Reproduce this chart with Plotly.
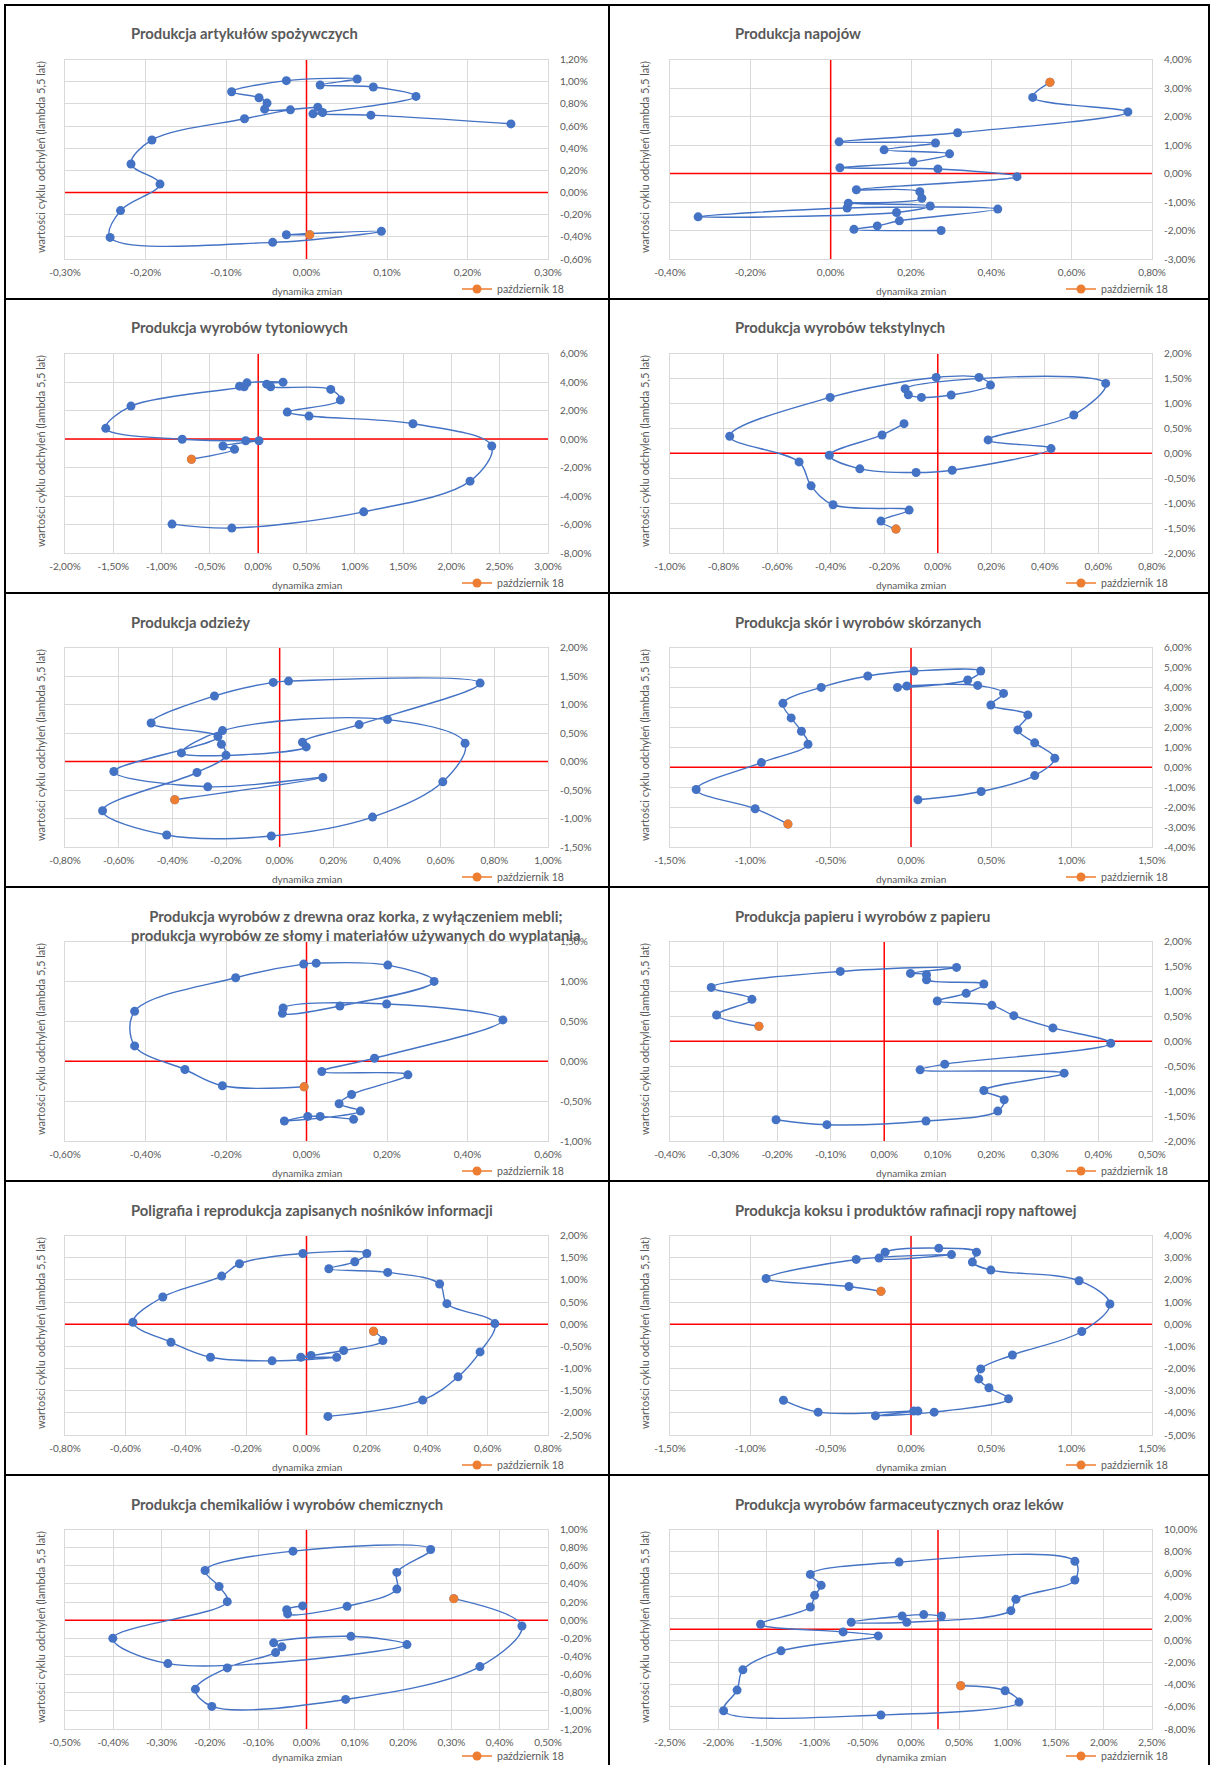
import numpy as np
import plotly.graph_objects as go

FONT = "Lato"
GREY = "#595959"
BLUE = "#4472c4"
ORANGE = "#ed7d31"
GRID = "#d9d9d9"
W, H = 1211, 1765

# ---------------- data (x = dynamika zmian [%], y = wartości cyklu [%]) ----------------
titles = [
    "Produkcja artykułów spożywczych",
    "Produkcja napojów",
    "Produkcja wyrobów tytoniowych",
    "Produkcja wyrobów tekstylnych",
    "Produkcja odzieży",
    "Produkcja skór i wyrobów skórzanych",
    "Produkcja wyrobów z drewna oraz korka, z wyłączeniem mebli;<br>produkcja wyrobów ze słomy i materiałów używanych do wyplatania",
    "Produkcja papieru i wyrobów z papieru",
    "Poligrafia i reprodukcja zapisanych nośników informacji",
    "Produkcja koksu i produktów rafinacji ropy naftowej",
    "Produkcja chemikaliów i wyrobów chemicznych",
    "Produkcja wyrobów farmaceutycznych oraz leków",
]

spozywcze_x = [0.254, 0.080, 0.008, 0.020, 0.136, 0.083, 0.017, 0.063, -0.025, -0.093, -0.059, -0.049,
               -0.052, 0.014, -0.020, -0.077, -0.192, -0.218, -0.182, -0.231, -0.244, -0.042, 0.093, -0.025, 0.004]
spozywcze_y = [0.619, 0.698, 0.710, 0.722, 0.867, 0.952, 0.970, 1.024, 1.009, 0.909, 0.855, 0.807,
               0.752, 0.770, 0.746, 0.665, 0.474, 0.257, 0.076, -0.163, -0.405, -0.450, -0.350, -0.381, -0.381]

napoje_x = [0.275, 0.058, 0.116, 0.171, 0.416, 0.041, -0.330, 0.164, 0.248, 0.044, 0.227, 0.222, 0.064,
            0.464, 0.267, 0.023, 0.205, 0.296, 0.133, 0.261, 0.021, 0.316, 0.740, 0.503, 0.546]
napoje_y = [-2.00, -1.96, -1.84, -1.66, -1.25, -1.21, -1.52, -1.37, -1.14, -1.04, -0.87, -0.64, -0.57,
            -0.11, 0.16, 0.20, 0.40, 0.69, 0.83, 1.07, 1.11, 1.43, 2.16, 2.67, 3.20]

tyton_x = [-0.892, -0.273, 1.092, 2.193, 2.418, 1.602, 0.526, 0.301, 0.851, 0.751, 0.129, 0.088, 0.257,
           -0.116, -0.193, -0.145, -1.317, -1.578, -0.787, -0.129, 0.008, -0.365, -0.245, -0.691]
tyton_y = [-5.97, -6.25, -5.11, -2.96, -0.49, 1.07, 1.61, 1.89, 2.73, 3.48, 3.66, 3.85, 3.99,
           3.94, 3.71, 3.66, 2.31, 0.75, -0.02, -0.12, -0.12, -0.49, -0.72, -1.42]

tekstylia_x = [-0.126, -0.208, -0.405, -0.291, -0.081, 0.054, 0.423, 0.188, 0.508, 0.627, -0.122, -0.110,
               -0.061, 0.050, 0.197, 0.154, -0.006, -0.402, -0.777, -0.518, -0.473, -0.391, -0.107, -0.212, -0.156]
tekstylia_y = [0.593, 0.367, -0.040, -0.313, -0.387, -0.340, 0.093, 0.267, 0.767, 1.400, 1.293, 1.173,
               1.120, 1.167, 1.367, 1.520, 1.520, 1.120, 0.340, -0.173, -0.653, -1.033, -1.140, -1.360, -1.520]

odziez_x = [-0.217, -0.200, -0.308, -0.660, -0.421, -0.031, 0.346, 0.608, 0.691, 0.402, -0.213, -0.366,
            0.099, 0.085, 0.296, 0.747, 0.033, -0.024, -0.243, -0.479, -0.230, -0.618, -0.268, 0.161, -0.391]
odziez_y = [0.303, 0.110, -0.193, -0.864, -1.289, -1.307, -0.975, -0.357, 0.320, 0.735, 0.542, 0.151,
            0.256, 0.338, 0.647, 1.376, 1.411, 1.388, 1.149, 0.676, 0.437, -0.176, -0.444, -0.280, -0.671]

skory_x = [0.043, 0.437, 0.770, 0.895, 0.770, 0.665, 0.727, 0.497, 0.576, 0.415, -0.026, -0.084, 0.353,
           0.434, 0.019, -0.269, -0.559, -0.797, -0.746, -0.682, -0.641, -0.931, -1.337, -0.970, -0.766]
skory_y = [-1.63, -1.22, -0.42, 0.45, 1.22, 1.87, 2.62, 3.12, 3.70, 4.10, 4.07, 4.00, 4.37,
           4.82, 4.82, 4.57, 4.00, 3.20, 2.47, 1.80, 1.15, 0.23, -1.12, -2.08, -2.85]

drewno_x = [0.117, 0.034, 0.003, -0.055, 0.134, 0.081, 0.112, 0.252, 0.038, 0.169, 0.488, 0.199, -0.058,
            -0.060, 0.083, 0.317, 0.202, 0.024, -0.007, -0.176, -0.427, -0.427, -0.302, -0.209, -0.006]
drewno_y = [-0.729, -0.692, -0.692, -0.750, -0.625, -0.533, -0.417, -0.171, -0.129, 0.037, 0.517, 0.717, 0.667,
            0.600, 0.692, 1.000, 1.204, 1.229, 1.217, 1.046, 0.625, 0.192, -0.104, -0.308, -0.321]

papier_x = [-0.202, -0.107, 0.078, 0.212, 0.224, 0.186, 0.336, 0.067, 0.113, 0.423, 0.315, 0.242, 0.201,
            0.099, 0.153, 0.186, 0.079, 0.079, 0.049, 0.135, -0.082, -0.323, -0.247, -0.313, -0.234]
papier_y = [-1.573, -1.673, -1.600, -1.400, -1.173, -0.987, -0.640, -0.573, -0.460, -0.040, 0.267, 0.513, 0.720,
            0.807, 0.960, 1.147, 1.233, 1.333, 1.360, 1.480, 1.400, 1.080, 0.840, 0.527, 0.300]

poligrafia_x = [0.071, 0.385, 0.502, 0.575, 0.624, 0.465, 0.441, 0.269, 0.074, 0.160, 0.200, -0.012, -0.222,
                -0.281, -0.476, -0.575, -0.449, -0.318, -0.114, 0.100, -0.019, 0.015, 0.123, 0.253, 0.222]
poligrafia_y = [-2.081, -1.713, -1.188, -0.625, 0.013, 0.462, 0.905, 1.167, 1.250, 1.407, 1.595, 1.595, 1.363,
                1.085, 0.613, 0.043, -0.407, -0.745, -0.827, -0.745, -0.745, -0.707, -0.595, -0.370, -0.160]

koks_x = [-0.794, -0.578, 0.017, 0.043, -0.221, 0.144, 0.607, 0.485, 0.422, 0.434, 0.631, 1.063, 1.238,
          1.046, 0.497, 0.382, 0.408, 0.173, -0.161, -0.199, 0.252, -0.341, -0.902, -0.386, -0.187]
koks_y = [-3.43, -3.97, -3.92, -3.92, -4.13, -3.97, -3.37, -2.87, -2.47, -2.02, -1.39, -0.33, 0.91,
          1.96, 2.44, 2.80, 3.25, 3.43, 3.25, 2.98, 3.14, 2.92, 2.06, 1.70, 1.48]

chemia_x = [-0.008, -0.041, -0.039, 0.084, 0.187, 0.187, 0.257, -0.028, -0.210, -0.181, -0.164, -0.401, -0.287,
            0.208, 0.092, -0.068, -0.051, -0.064, -0.164, -0.230, -0.196, 0.081, 0.359, 0.446, 0.305]
chemia_y = [0.157, 0.116, 0.069, 0.153, 0.343, 0.527, 0.780, 0.761, 0.548, 0.372, 0.204, -0.200, -0.479,
            -0.269, -0.178, -0.250, -0.294, -0.357, -0.526, -0.761, -0.951, -0.874, -0.512, -0.064, 0.237]

farmacja_x = [0.316, 0.132, -0.092, -0.620, -0.044, 1.036, 1.088, 1.700, 1.700, -0.124, -1.044, -0.932, -1.000,
              -1.044, -1.560, -0.704, -0.340, -1.348, -1.744, -1.804, -1.944, -0.312, 1.120, 0.976, 0.516]
farmacja_y = [2.20, 2.32, 2.20, 1.63, 1.63, 2.68, 3.70, 5.44, 7.14, 7.06, 5.95, 4.96, 4.06,
              3.01, 1.45, 0.76, 0.40, -0.95, -2.66, -4.49, -6.35, -6.74, -5.57, -4.55, -4.10]

series_x = [spozywcze_x, napoje_x, tyton_x, tekstylia_x, odziez_x, skory_x,
            drewno_x, papier_x, poligrafia_x, koks_x, chemia_x, farmacja_x]
series_y = [spozywcze_y, napoje_y, tyton_y, tekstylia_y, odziez_y, skory_y,
            drewno_y, papier_y, poligrafia_y, koks_y, chemia_y, farmacja_y]

# axis scales: (min, max, step)
x_scales = [(-0.3, 0.3, 0.1), (-0.4, 0.8, 0.2), (-2, 3, 0.5), (-1, 0.8, 0.2), (-0.8, 1.0, 0.2), (-1.5, 1.5, 0.5),
            (-0.6, 0.6, 0.2), (-0.4, 0.5, 0.1), (-0.8, 0.8, 0.2), (-1.5, 1.5, 0.5), (-0.5, 0.5, 0.1), (-2.5, 2.5, 0.5)]
y_scales = [(-0.6, 1.2, 0.2), (-3, 4, 1), (-8, 6, 2), (-2, 2, 0.5), (-1.5, 2, 0.5), (-4, 6, 1),
            (-1, 1.5, 0.5), (-2, 2, 0.5), (-2.5, 2, 0.5), (-5, 4, 1), (-1.2, 1.0, 0.2), (-8, 10, 2)]
# where the red reference lines cross
cross_x = [0, 0, 0, 0, 0, 0, 0, 0, 0, 0, 0, 0.28]
cross_y = [0, 0, 0, 0, 0, 0, 0, 0, 0, 0, 0, 1.0]

legend_label = "październik 18"
x_title = "dynamika zmian"
y_title = "wartości cyklu odchyleń (lambda 5,5 lat)"


def fmt(v):
    v = round(v, 4)
    if abs(v) < 1e-9:
        v = 0.0
    return f"{v:.2f}".replace(".", ",") + "%"


def ticks(lo, hi, step):
    n = int(round((hi - lo) / step))
    vals = [round(lo + k * step, 4) for k in range(n + 1)]
    return vals, [fmt(v) for v in vals]


fig = go.Figure()
layout = dict(
    width=W, height=H, margin=dict(l=0, r=0, t=0, b=0, pad=0, autoexpand=False),
    paper_bgcolor="white", plot_bgcolor="white",
    font=dict(family=FONT, color=GREY, size=10),
    annotations=[], shapes=[], hovermode=False, template="none",
)

for i in range(12):
    r, c = divmod(i, 2)
    x0 = 5 if c == 0 else 609
    x1 = 609 if c == 0 else 1209
    pl = 65 if c == 0 else 670
    pr = 548 if c == 0 else 1152
    pt = 59.5 + 294 * r
    pb = 259 + 294 * r
    top = 5 + 294 * r

    sfx = "" if i == 0 else str(i + 1)
    xa, ya = "x" + sfx, "y" + sfx

    xlo, xhi, xs = x_scales[i]
    ylo, yhi, ys = y_scales[i]
    xv, xt = ticks(xlo, xhi, xs)
    yv, yt = ticks(ylo, yhi, ys)

    layout["xaxis" + sfx] = dict(
        domain=[pl / W, pr / W], anchor=ya, range=[xlo, xhi], automargin=False,
        tickmode="array", tickvals=xv, ticktext=xt,
        showgrid=True, gridcolor=GRID, gridwidth=1, zeroline=False,
        showline=True, linecolor=GRID, linewidth=1, mirror=True,
        ticks="", tickfont=dict(size=10, color=GREY, family=FONT),
        ticklabelstandoff=4, fixedrange=True,
    )
    layout["yaxis" + sfx] = dict(
        domain=[1 - pb / H, 1 - pt / H], anchor=xa, range=[ylo, yhi], side="right", automargin=False,
        tickmode="array", tickvals=yv, ticktext=yt,
        showgrid=True, gridcolor=GRID, gridwidth=1, zeroline=False,
        showline=True, linecolor=GRID, linewidth=1, mirror=True,
        ticks="", tickfont=dict(size=10, color=GREY, family=FONT),
        ticklabelstandoff=9, fixedrange=True,
    )

    # red reference lines (drawn first so the series sit on top)
    fig.add_trace(go.Scatter(x=[cross_x[i], cross_x[i]], y=[ylo, yhi], mode="lines", xaxis=xa, yaxis=ya,
                             line=dict(color="#ff0000", width=1.5), showlegend=False, hoverinfo="skip"))
    fig.add_trace(go.Scatter(x=[xlo, xhi], y=[cross_y[i], cross_y[i]], mode="lines", xaxis=xa, yaxis=ya,
                             line=dict(color="#ff0000", width=1.5), showlegend=False, hoverinfo="skip"))

    # panel frame
    layout["shapes"].append(dict(type="rect", xref="paper", yref="paper", x0=x0 / W, x1=x1 / W,
                                 y0=1 - (top + 294) / H, y1=1 - top / H,
                                 line=dict(color="black", width=2), layer="above"))

    # title
    layout["annotations"].append(dict(
        text="<b>" + titles[i] + "</b>", xref="paper", yref="paper",
        x=(x0 + 124) / W, y=1 - (top + 17.5) / H, xanchor="left", yanchor="top", align="center",
        showarrow=False, font=dict(family=FONT, size=14.8, color=GREY)))
    # y title (left)
    layout["annotations"].append(dict(
        text=y_title, xref="paper", yref="paper", textangle=-90,
        x=(x0 + 35) / W, y=1 - (157 + 294 * r) / H, xanchor="center", yanchor="middle",
        showarrow=False, font=dict(family=FONT, size=11, color=GREY)))
    # x title
    xt_y = min(291 + 294 * r, H - 8)
    layout["annotations"].append(dict(
        text=x_title, xref="paper", yref="paper",
        x=((pl + pr) / 2) / W, y=1 - xt_y / H, xanchor="center", yanchor="middle",
        showarrow=False, font=dict(family=FONT, size=10, color=GREY)))

    xs_data, ys_data = series_x[i], series_y[i]
    fig.add_trace(go.Scatter(
        x=xs_data, y=ys_data, mode="lines+markers", xaxis=xa, yaxis=ya, showlegend=False,
        line=dict(color=BLUE, width=1.4, shape="spline", smoothing=1),
        marker=dict(size=9, color=BLUE), hoverinfo="skip"))
    leg = "legend" + sfx
    fig.add_trace(go.Scatter(
        x=[xs_data[-1]], y=[ys_data[-1]], mode="lines+markers", xaxis=xa, yaxis=ya,
        name=legend_label, showlegend=True, legend=leg,
        line=dict(color=ORANGE, width=1.5), marker=dict(size=9, color=ORANGE), hoverinfo="skip"))
    layout[leg] = dict(
        x=(x0 + 452) / W, y=1 - min(289 + 294 * r, H - 9) / H, xanchor="left", yanchor="middle",
        bgcolor="rgba(0,0,0,0)", borderwidth=0, itemwidth=30,
        font=dict(family=FONT, size=10.5, color=GREY))

fig.update_layout(**layout)
fig.write_html("out.html", config={"displayModeBar": False},
               post_script="document.body.style.margin='0';document.body.style.padding='0';")
